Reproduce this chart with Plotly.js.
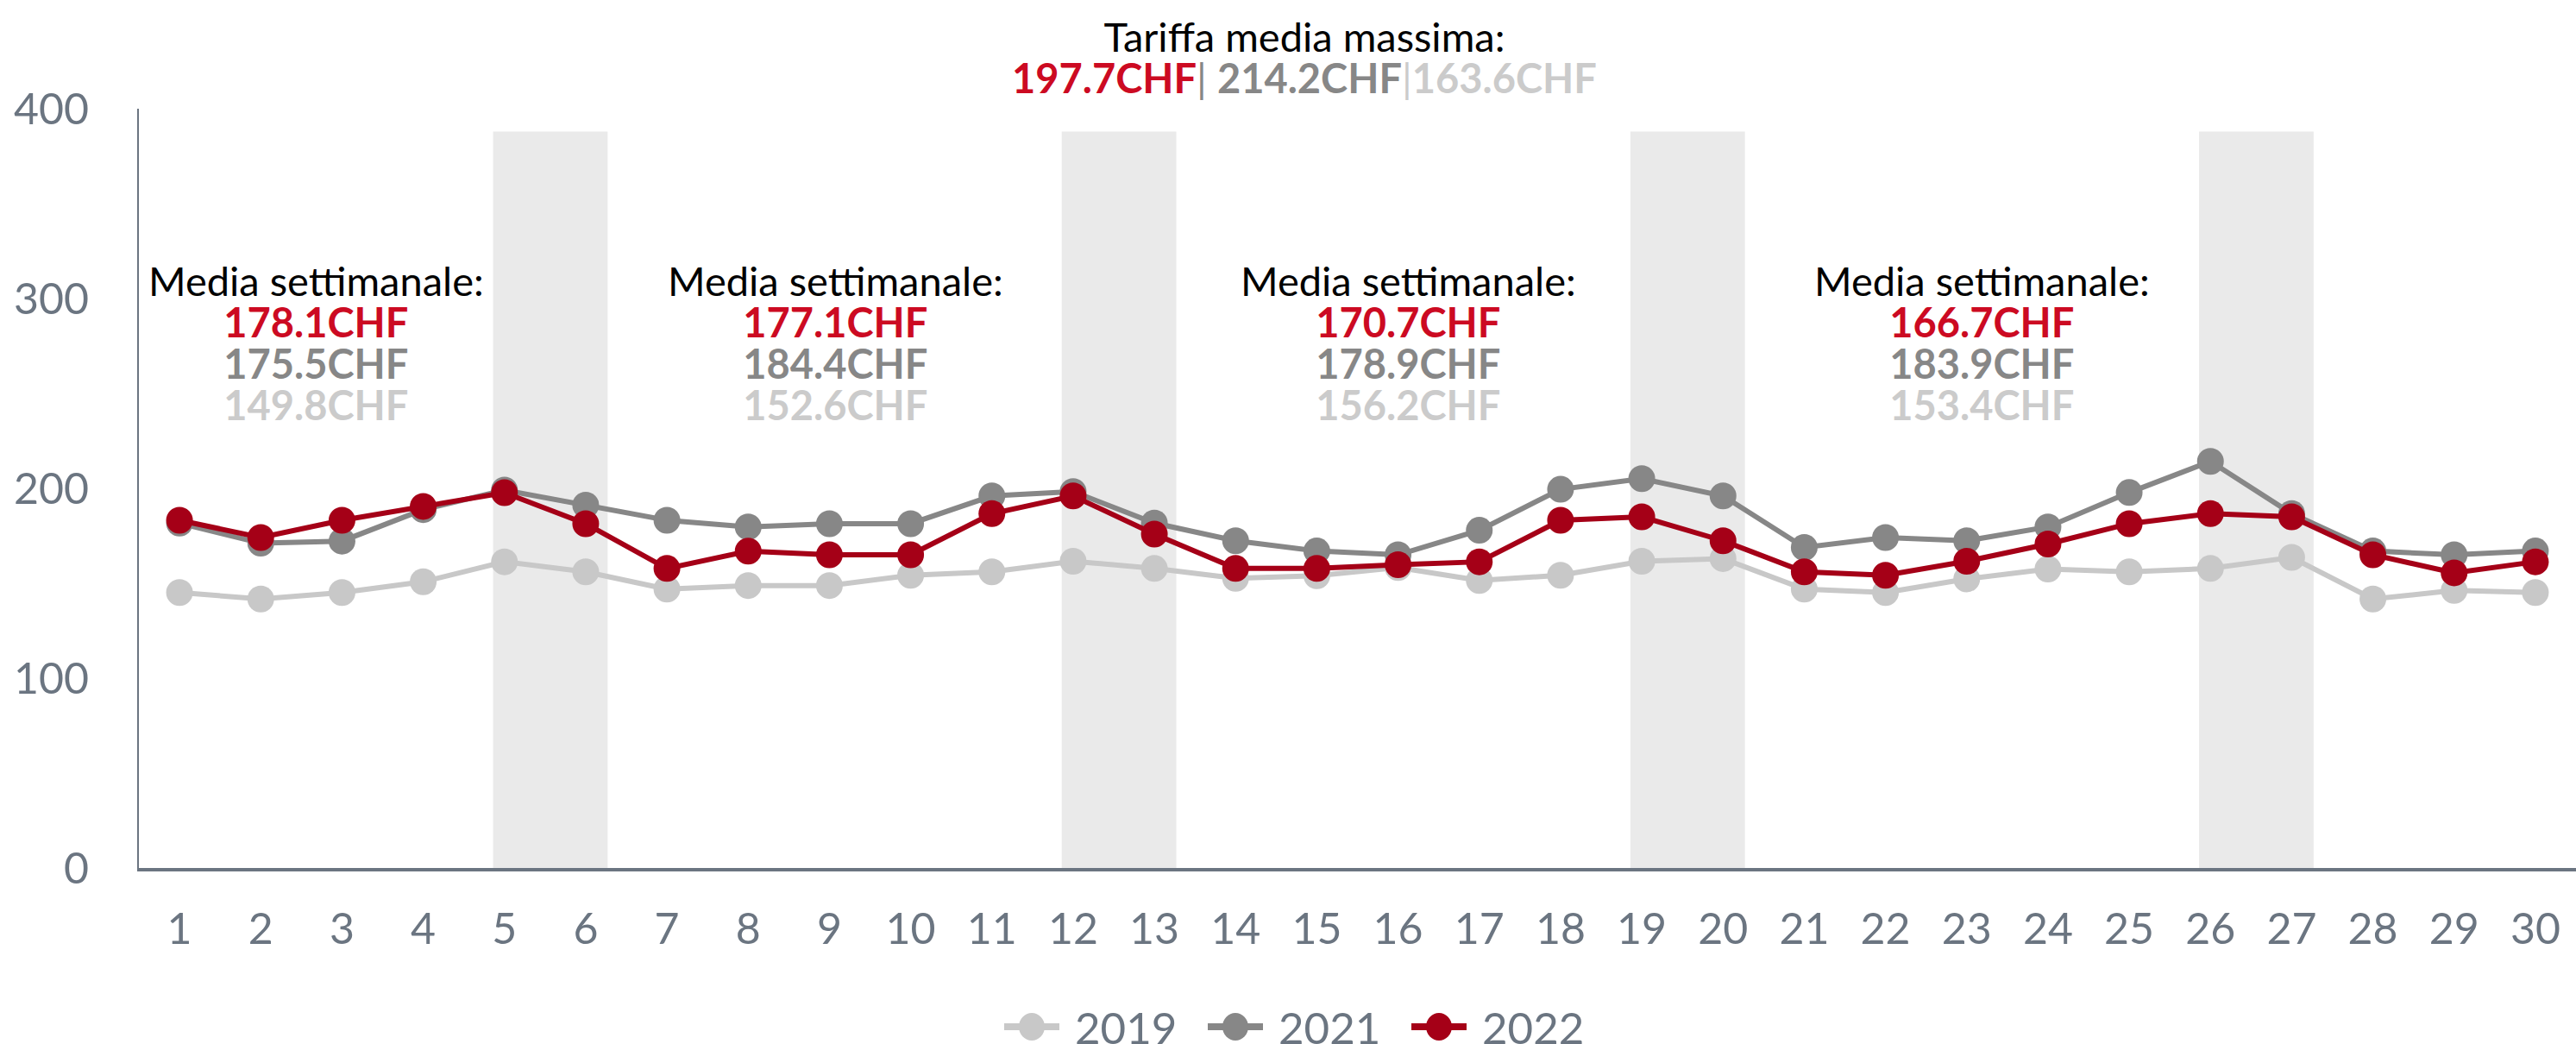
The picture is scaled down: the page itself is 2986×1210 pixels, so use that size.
<!DOCTYPE html>
<html>
<head>
<meta charset="utf-8">
<script src="https://cdn.plot.ly/plotly-3.0.1.min.js"></script>
<style>
  html, body { margin: 0; padding: 0; background: #ffffff; }
  #chart { width: 2986px; height: 1210px; }
</style>
</head>
<body>
<div id="chart"></div>
<script>
// ---- Data ----
const days = [1,2,3,4,5,6,7,8,9,10,11,12,13,14,15,16,17,18,19,20,21,22,23,24,25,26,27,28,29,30];
const seriesNames = ["2019", "2021", "2022"];
const values2019 = [145.1,141.7,145.1,150.8,161.3,156.0,146.9,148.8,148.8,154.2,156.0,161.6,157.8,152.6,154.0,158.3,151.5,154.2,161.6,163.0,146.9,145.1,152.3,157.5,156.0,157.8,163.6,141.7,146.2,145.1];
const values2021 = [181.7,171.1,172.2,188.8,199.1,191.1,183.2,179.7,181.4,181.4,196.0,198.3,181.7,172.4,167.0,165.0,177.9,199.5,205.1,196.0,168.9,174.1,172.4,179.7,197.8,214.2,186.7,167.0,165.0,167.0];
const values2022 = [183.2,174.1,183.2,190.5,197.7,181.4,157.8,166.9,165.0,165.0,186.7,196.0,175.9,157.8,157.8,159.8,161.3,183.2,185.0,172.4,156.0,154.2,161.6,170.7,181.4,186.7,185.0,165.0,155.5,161.3];
const weekendStarts = [5, 12, 19, 26];
const weekAvg2022 = [178.1, 177.1, 170.7, 166.7];
const weekAvg2021 = [175.5, 184.4, 178.9, 183.9];
const weekAvg2019 = [149.8, 152.6, 156.2, 153.4];
const maxTariff = {"2022": 197.7, "2021": 214.2, "2019": 163.6};
const weekLabel = "Media settimanale:";
const maxLabel = "Tariffa media massima:";
const currency = "CHF";

// ---- Styles ----
const FONT = "Lato, 'Open Sans', sans-serif";
const AXIS_COLOR = "#6b7581";
const lineColors = {"2019": "#c8c8c8", "2021": "#878787", "2022": "#a50017"};
const textColors = {"2019": "#cbcbcb", "2021": "#878787", "2022": "#cc0a22"};

// plot area in pixels (for converting positions to paper units)
const PL = 161, PW = 2825, PB = 1006, PH = 880;
const px2x = p => (p - PL) / PW;
const px2y = p => (PB - p) / PH;

const valuesBy = {"2019": values2019, "2021": values2021, "2022": values2022};
const traces = seriesNames.map(name => ({
  type: "scatter",
  mode: "lines+markers",
  name: name,
  x: days,
  y: valuesBy[name],
  line: {color: lineColors[name], width: 6},
  marker: {color: lineColors[name], size: 31},
  showlegend: false,
  hoverinfo: "x+y+name"
}));

const shapes = weekendStarts.map(n => ({
  type: "rect", xref: "x", yref: "y",
  x0: n - 0.14, x1: n + 1.27, y0: -1.5, y1: 388,
  fillcolor: "#eaeaea", line: {width: 0}, layer: "below"
}));

const fmt = v => v.toFixed(1) + currency;
const big = (txt, color, bold) => {
  const inner = "<span style='font-size:47px;color:" + color + "'>" + txt + "</span>";
  return bold ? "<b>" + inner + "</b>" : inner;
};
const annotations = [];
const blockX = [2.68, 9.07, 16.13, 23.19];
blockX.forEach((bx, i) => {
  const text = [
    big(weekLabel, "#000000", false),
    big(fmt(weekAvg2022[i]), textColors["2022"], true),
    big(fmt(weekAvg2021[i]), textColors["2021"], true),
    big(fmt(weekAvg2019[i]), textColors["2019"], true)
  ].join("<br>");
  annotations.push({
    xref: "x", yref: "paper", x: bx, y: px2y(397),
    xanchor: "center", yanchor: "middle", showarrow: false,
    text: text,
    font: {family: FONT, size: 37, color: "#000000"}
  });
});

const titleLine2 =
  "<b><span style='font-size:47px;color:" + textColors["2022"] + "'>" + fmt(maxTariff["2022"]) + "</span></b>" +
  "<span style='font-size:47px;color:" + textColors["2021"] + "'>| </span>" +
  "<b><span style='font-size:47px;color:" + textColors["2021"] + "'>" + fmt(maxTariff["2021"]) + "</span></b>" +
  "<span style='font-size:47px;color:" + textColors["2019"] + "'>|</span>" +
  "<b><span style='font-size:47px;color:" + textColors["2019"] + "'>" + fmt(maxTariff["2019"]) + "</span></b>";
annotations.push({
  xref: "paper", yref: "paper", x: px2x(1512), y: px2y(66),
  xanchor: "center", yanchor: "middle", showarrow: false,
  text: big(maxLabel, "#000000", false) + "<br>" + titleLine2,
  font: {family: FONT, size: 37, color: "#000000"}
});

// ---- custom legend (wide line + large marker, as in the original) ----
const legendPos = {"2019": 1196, "2021": 1432, "2022": 1668};
const legendY = 1190;
seriesNames.forEach(name => {
  const cx = legendPos[name];
  shapes.push({
    type: "line", xref: "paper", yref: "paper",
    x0: px2x(cx - 32), x1: px2x(cx + 32), y0: px2y(legendY), y1: px2y(legendY),
    line: {color: lineColors[name], width: 8}
  });
  shapes.push({
    type: "circle", xref: "paper", yref: "paper",
    xsizemode: "pixel", ysizemode: "pixel",
    xanchor: px2x(cx), yanchor: px2y(legendY),
    x0: -15, x1: 15, y0: -16, y1: 16,
    fillcolor: lineColors[name], line: {width: 0}
  });
  annotations.push({
    xref: "paper", yref: "paper", x: px2x(cx + 48), y: px2y(legendY),
    xanchor: "left", yanchor: "middle", showarrow: false,
    text: name, font: {family: FONT, size: 51, color: AXIS_COLOR}
  });
});

const layout = {
  width: 2986, height: 1210,
  margin: {l: PL, r: 0, t: 126, b: 1210 - PB, pad: 0},
  paper_bgcolor: "#ffffff", plot_bgcolor: "#ffffff",
  font: {family: FONT, size: 50, color: AXIS_COLOR},
  showlegend: false,
  xaxis: {
    type: "linear", range: [0.5, 30.5], tick0: 1, dtick: 1,
    showgrid: false, zeroline: false,
    showline: true, linecolor: AXIS_COLOR, linewidth: 4,
    ticks: "", ticklabelstandoff: 24,
    tickfont: {family: FONT, size: 50, color: AXIS_COLOR},
    fixedrange: true
  },
  yaxis: {
    range: [0, 400], tick0: 0, dtick: 100,
    showgrid: false, zeroline: false,
    showline: true, linecolor: AXIS_COLOR, linewidth: 2,
    ticks: "", ticklabelstandoff: 46,
    tickfont: {family: FONT, size: 50, color: AXIS_COLOR},
    fixedrange: true
  },
  shapes: shapes,
  annotations: annotations
};

Plotly.newPlot("chart", traces, layout, {displayModeBar: false, staticPlot: true});
</script>
</body>
</html>
